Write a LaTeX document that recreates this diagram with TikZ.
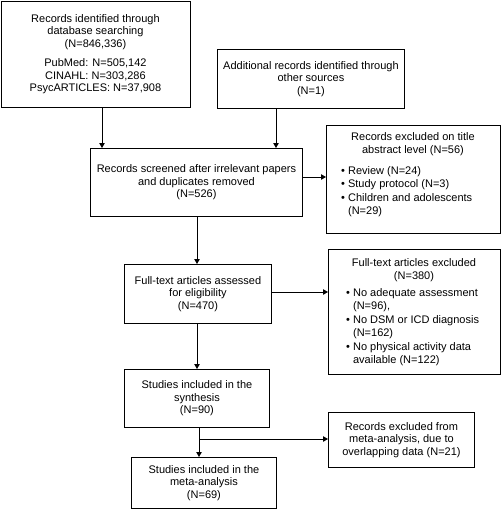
\documentclass[tikz,border=0pt]{standalone}
\usepackage{fontspec}
\setmainfont{Liberation Sans}
\usetikzlibrary{arrows.meta}
\begin{document}
\begin{tikzpicture}[x=1pt,y=-1pt,
  box/.style={draw=black, line width=0.9pt, anchor=north west, inner sep=0pt, align=center,
    font=\fontsize{11}{12.5}\selectfont},
  txt/.style={inner sep=0pt, font=\fontsize{11}{13.5}\selectfont},
  arr/.style={draw=black, line width=0.8pt, -{Triangle[length=5pt,width=5.5pt]}},
  ln/.style={draw=black, line width=0.8pt}]
\useasboundingbox (0,0) rectangle (501,509);
% boxes
\node[box, minimum width=189pt, minimum height=106pt] (b1) at (0.5,0.5)
  {Records identified through\\database searching\\(N=846,336)\\[7pt]PubMed: N=505,142\\CINAHL: N=303,286\\PsycARTICLES: N=37,908};
\node[box, minimum width=187pt, minimum height=59pt] (b2) at (217,49)
  {Additional records identified through\\other sources\\(N=1)};
\node[box, minimum width=212pt, minimum height=68pt] (b3) at (90,148)
  {Records screened after irrelevant papers\\and duplicates removed\\(N=526)};
\node[box, minimum width=174pt, minimum height=108pt] (b4) at (326,125) {};
\node[box, minimum width=147pt, minimum height=59pt] (b5) at (124,264)
  {Full-text articles assessed\\for eligibility\\(N=470)};
\node[box, minimum width=172pt, minimum height=125pt] (b6) at (328,249) {};
\node[box, minimum width=145pt, minimum height=58pt] (b7) at (124,369)
  {Studies included in the\\synthesis\\(N=90)};
\node[box, minimum width=145pt, minimum height=51pt] (b8) at (131,457)
  {Studies included in the\\meta-analysis\\(N=69)};
\node[box, minimum width=146pt, minimum height=55pt] (b9) at (328,412)
  {Records excluded from\\meta-analysis, due to\\overlapping data (N=21)};
% texts in b4
\node[txt, align=center, anchor=north] (t4) at (413,132)
  {Records excluded on title\\abstract level (N=56)};
\node[txt, align=left, anchor=north west] (l4) at (341,166)
  {\textbullet\ Review (N=24)\\\textbullet\ Study protocol (N=3)\\\textbullet\ Children and adolescents\\\hphantom{\textbullet\ }(N=29)};
% texts in b6
\node[txt, align=center, anchor=north] (t6) at (414,258)
  {Full-text articles excluded\\(N=380)};
\node[txt, align=left, anchor=north west] (l6) at (346,288)
  {\textbullet\ No adequate assessment\\\hphantom{\textbullet\ }(N=96),\\\textbullet\ No DSM or ICD diagnosis\\\hphantom{\textbullet\ }(N=162)\\\textbullet\ No physical activity data\\\hphantom{\textbullet\ }available (N=122)};
% connectors
\draw[arr] (b1.south -| 102,0) -- (b3.north -| 102,0);
\draw[arr] (b2.south -| 276,0) -- (b3.north -| 276,0);
\draw[arr] (b3.east |- 0,177) -- (b4.west |- 0,177);
\draw[arr] (b3.south -| 197,0) -- (b5.north -| 197,0);
\draw[arr] (b5.east |- 0,292) -- (b6.west |- 0,292);
\draw[arr] (b5.south -| 197,0) -- (b7.north -| 197,0);
\draw[arr] (b7.south -| 199,0) -- (b8.north -| 199,0);
\coordinate (br) at (199,439);
\draw[arr] (br) -- (b9.west |- br);
\end{tikzpicture}
\end{document}
